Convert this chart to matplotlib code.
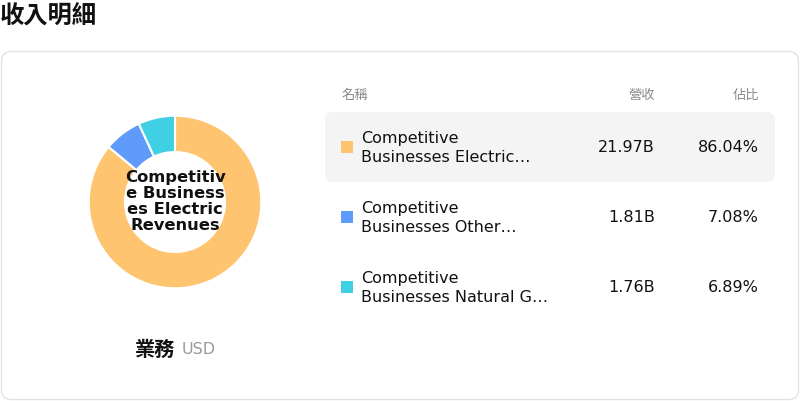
import matplotlib
matplotlib.use('Agg')
import matplotlib.pyplot as plt
from matplotlib.patches import FancyBboxPatch

plt.rcParams['font.family'] = ['DejaVu Sans', 'Noto Sans CJK TC']

# data
names = ['Competitive Businesses Electric Revenues',
         'Competitive Businesses Other Revenues',
         'Competitive Businesses Natural Gas Revenues']
name_lines = [('Competitive', 'Businesses Electric…'),
              ('Competitive', 'Businesses Other…'),
              ('Competitive', 'Businesses Natural G…')]
revenue_b = [21.97, 1.81, 1.76]
share_pct = [86.04, 7.08, 6.89]
colors = ['#FFC470', '#5E9BFB', '#3FD0E6']
center_label = 'Competitiv\ne Business\nes Electric\nRevenues'

W, H = 800, 402
fig = plt.figure(figsize=(W / 100, H / 100), dpi=100)

# layout axes in pixel coordinates
bg = fig.add_axes([0, 0, 1, 1])
bg.set_xlim(0, W)
bg.set_ylim(H, 0)
bg.axis('off')

cjk = ['Noto Sans CJK TC', 'DejaVu Sans']
bg.text(0, 16, '收入明細', family=cjk, fontsize=17.5, fontweight='bold',
        va='center', ha='left', color='#111111')

card = FancyBboxPatch((1.5, 52.5), 797, 348, boxstyle='round,pad=0,rounding_size=10',
                      facecolor='white', edgecolor='#E2E1EA', linewidth=1)
bg.add_patch(card)

# table header
hdr_y = 95
bg.text(342, hdr_y, '名稱', family=cjk, fontsize=9.5, color='#888888', va='center', ha='left')
bg.text(655, hdr_y, '營收', family=cjk, fontsize=9.5, color='#888888', va='center', ha='right')
bg.text(759, hdr_y, '佔比', family=cjk, fontsize=9.5, color='#888888', va='center', ha='right')

row_y = [148, 218, 288]
hl = FancyBboxPatch((325, 113), 450, 70, boxstyle='round,pad=0,rounding_size=8',
                    facecolor='#F4F4F4', edgecolor='none')
bg.add_patch(hl)

for i, y in enumerate(row_y):
    bg.add_patch(plt.Rectangle((341, y - 6), 12, 12, facecolor=colors[i], edgecolor='none'))
    bg.text(361, y - 9, name_lines[i][0], fontsize=11.5, color='#111111', va='center', ha='left')
    bg.text(361, y + 10, name_lines[i][1], fontsize=11.5, color='#111111', va='center', ha='left')
    bg.text(655, y, f'{revenue_b[i]:.2f}B', fontsize=11.5, color='#111111', va='center', ha='right')
    bg.text(759, y, f'{share_pct[i]:.2f}%', fontsize=11.5, color='#111111', va='center', ha='right')

# footer label under donut
bg.text(175, 349, '業務', family=cjk, fontsize=14.5, fontweight='bold', color='#111111',
        va='center', ha='right')
bg.text(182, 350, 'USD', fontsize=11.5, color='#999999', va='center', ha='left')

# donut
cx, cy, r = 175, 203, 88
ax = fig.add_axes([(cx - r) / W, (H - cy - r) / H, 2 * r / W, 2 * r / H])
ax.pie(revenue_b, colors=colors, startangle=90, counterclock=False, radius=1,
       wedgeprops=dict(width=1 - 51 / 88, edgecolor='white', linewidth=1.5))
ax.set_xlim(-1.02, 1.02)
ax.set_ylim(-1.02, 1.02)
ax.set_aspect('equal')
ax.axis('off')
ax.text(0, 0.02, center_label, fontsize=11.8, fontweight='bold', ha='center', va='center',
        linespacing=1.07, color='#111111')

fig.savefig('out.png', dpi=100)
